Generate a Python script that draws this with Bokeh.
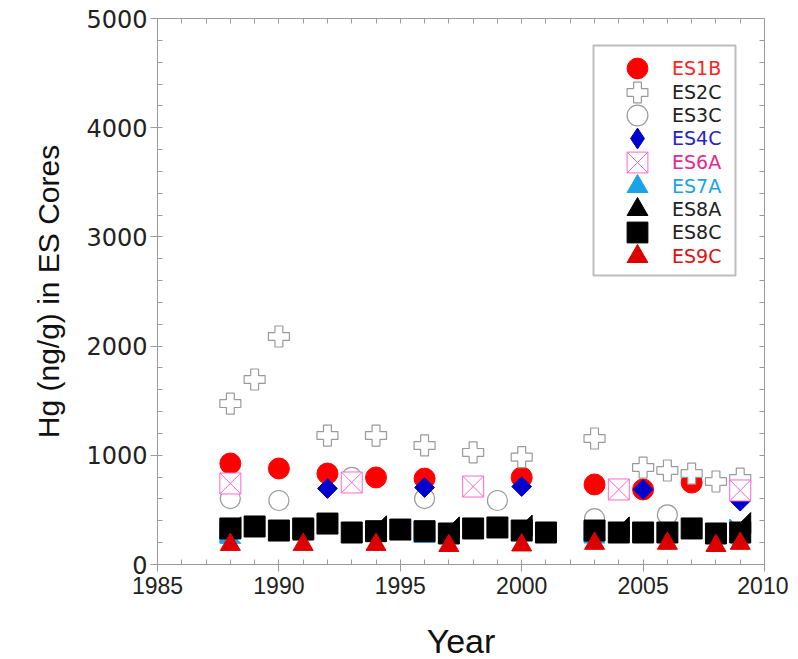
import numpy as np
from bokeh.plotting import figure
from bokeh.models import (Range1d, LinearAxis, SingleIntervalTicker, FixedTicker, Legend,
                          LegendItem, BoxAnnotation, ColumnDataSource)
from bokeh.embed import file_html
from bokeh.resources import INLINE

# ---------------- data ----------------
es1b_year = [1988, 1990, 1992, 1994, 1996, 2000, 2003, 2005, 2007]
es1b_hg = [925, 879, 833, 797, 787, 797, 733, 687, 750]

es2c_year = [1988, 1989, 1990, 1992, 1994, 1996, 1998, 2000, 2003, 2005, 2006, 2007, 2008, 2009]
es2c_hg = [1474, 1694, 2088, 1181, 1181, 1090, 1026, 983, 1154, 888, 861, 833, 760, 787]

es3c_year = [1988, 1990, 1993, 1996, 1999, 2003, 2006, 2009]
es3c_hg = [604, 586, 797, 604, 586, 420, 455, 240]

es4c_year = [1988, 1992, 1996, 2000, 2005, 2009]
es4c_hg = [750, 696, 705, 714, 687, 580]

es6a_year = [1988, 1993, 1998, 2004, 2009]
es6a_hg = [742, 751, 714, 687, 678]

es7a_year = [1988, 1996, 2003, 2009]
es7a_hg = [290, 300, 293, 320]

es8a_year = [1988, 1991, 1994, 1997, 2000, 2004, 2009]
es8a_hg = [340, 320, 350, 340, 357, 340, 380]

es8c_year = [1988, 1989, 1990, 1991, 1992, 1993, 1994, 1995, 1996, 1997, 1998,
             1999, 2000, 2001, 2003, 2004, 2005, 2006, 2007, 2008, 2009]
es8c_hg = [330, 348, 311, 330, 375, 293, 305, 320, 305, 284, 330,
           339, 311, 293, 311, 293, 293, 293, 330, 284, 293]

es9c_year = [1988, 1991, 1994, 1997, 2000, 2003, 2006, 2008, 2009]
es9c_hg = [182, 182, 182, 172, 177, 192, 192, 172, 192]

series_names = ["ES1B", "ES2C", "ES3C", "ES4C", "ES6A", "ES7A", "ES8A", "ES8C", "ES9C"]

x_ticks_interval = 5
y_ticks_interval = 1000

# ---------------- styles ----------------
X0, X1, Y0, Y1 = 1985, 2010, 0, 5000
FW, FH = 607, 546
AX = "#9a9a9a"
SANS = "Liberation Sans"

p = figure(frame_width=FW, frame_height=FH,
           x_range=Range1d(X0, X1), y_range=Range1d(Y0, Y1),
           output_backend="svg", toolbar_location=None,
           min_border_left=157, min_border_right=24,
           min_border_top=18, min_border_bottom=90,
           background_fill_color="white", border_fill_color="white")
p.outline_line_color = None
p.xgrid.grid_line_color = None
p.ygrid.grid_line_color = None

xa = p.xaxis[0]
ya = p.yaxis[0]
xa.ticker = SingleIntervalTicker(interval=x_ticks_interval, num_minor_ticks=5)
ya.ticker = SingleIntervalTicker(interval=y_ticks_interval, num_minor_ticks=5)
for ax in (xa, ya):
    ax.axis_line_color = AX
    ax.major_tick_line_color = AX
    ax.minor_tick_line_color = AX
    ax.major_tick_out = 7
    ax.major_tick_in = 0
    ax.minor_tick_out = 0
    ax.minor_tick_in = 5
xa.axis_label = "Year"
xa.axis_label_text_font = SANS
xa.axis_label_text_font_size = "34px"
xa.axis_label_text_font_style = "normal"
xa.axis_label_text_color = "#111111"
xa.axis_label_standoff = 25
xa.major_label_text_font = SANS
xa.major_label_text_font_size = "23px"
xa.major_label_text_color = "#222222"
xa.major_label_standoff = 5

ya.axis_label = "Hg (ng/g) in ES Cores"
ya.axis_label_text_font = SANS
ya.axis_label_text_font_size = "30px"
ya.axis_label_text_font_style = "normal"
ya.axis_label_text_color = "#111111"
ya.axis_label_standoff = 18
ya.major_label_text_font = "DejaVu Sans"
ya.major_label_text_font_size = "24px"
ya.major_label_text_color = "#222222"
ya.major_label_standoff = 3

# mirrored tick marks on the right and top edges (ticks only, no labels)
right_ticks = list(range(Y0, Y1 + 1, y_ticks_interval // 5))
top_ticks = list(range(X0, X1 + 1, 1))
for loc, ticks in (("right", right_ticks), ("above", top_ticks)):
    ax = LinearAxis(ticker=FixedTicker(ticks=[], minor_ticks=ticks),
                    axis_line_color=AX, major_tick_line_color=AX, minor_tick_line_color=AX,
                    major_tick_out=0, major_tick_in=0, minor_tick_out=0, minor_tick_in=5,
                    major_label_standoff=0)
    p.add_layout(ax, loc)

# ---------------- marks ----------------
renderers = {}
renderers["ES1B"] = p.scatter(es1b_year, es1b_hg, marker="circle", size=21,
                              fill_color="#ff0000", line_color="#ff0000")
renderers["ES2C"] = p.scatter(es2c_year, es2c_hg, marker="plus", size=21,
                              fill_color="white", line_color="#9a9a9a", line_width=1.2)
renderers["ES3C"] = p.scatter(es3c_year, es3c_hg, marker="circle", size=20,
                              fill_color="white", line_color="#9a9a9a", line_width=1.2)
p.scatter(es4c_year, es4c_hg, marker="square", angle=np.pi / 4, size=14,
          fill_color="#0000cc", line_color="#0000cc")
renderers["ES6A"] = p.scatter(es6a_year, es6a_hg, marker="square_x", size=21,
                              fill_color="white", line_color="#ff66cc", line_width=1)

# right-triangle markers (ES7A: right angle lower-left, ES8A: lower-right)
HW = 10.5 * (X1 - X0) / FW     # half width in years (10.5 px)
HH = 10.5 * (Y1 - Y0) / FH     # half height in ng/g (10.5 px)
es7a_xs = [[x - HW, x - HW, x + HW] for x in es7a_year]
es7a_ys = [[y + HH, y - HH, y - HH] for y in es7a_hg]
p.patches(es7a_xs, es7a_ys, fill_color="#1aa3e8", line_color="#1aa3e8")
es8a_xs = [[x - HW, x + HW, x + HW] for x in es8a_year]
es8a_ys = [[y - HH, y - HH, y + HH] for y in es8a_hg]
p.patches(es8a_xs, es8a_ys, fill_color="black", line_color="black")

renderers["ES8C"] = p.scatter(es8c_year, es8c_hg, marker="square", size=21,
                              fill_color="black", line_color="black")
renderers["ES9C"] = p.scatter(es9c_year, es9c_hg, marker="triangle", size=20,
                              fill_color="#dd0000", line_color="#dd0000")

# legend-only glyph renderers (one off-plot NaN point) for markers whose plot shape differs
def legend_only(marker, color):
    src = ColumnDataSource(dict(x=[np.nan], y=[np.nan]))
    return p.scatter("x", "y", source=src, marker=marker, fill_color=color, line_color=color)

renderers["ES4C"] = legend_only("diamond", "#0000cc")
renderers["ES7A"] = legend_only("triangle", "#1aa3e8")
renderers["ES8A"] = legend_only("triangle", "black")

label_colors = {"ES1B": "#ff2222", "ES2C": "#222222", "ES3C": "#222222",
                "ES4C": "#2424cc", "ES6A": "#e8288c", "ES7A": "#1aa3e8",
                "ES8A": "#222222", "ES8C": "#222222", "ES9C": "#dd1111"}

# ---------------- legend (one per entry for individual label colours) ----------------
G = 52            # glyph box -> marker size 0.4*G
CX = 480          # glyph centre, px from frame left
CY0, DY = 50, 23.5
for i, name in enumerate(series_names):
    cy = CY0 + DY * i
    lg = Legend(items=[LegendItem(label=name, renderers=[renderers[name]])],
                location=(CX - G // 2, int(round(FH - (cy + G / 2)))),
                glyph_width=G, glyph_height=G, label_height=G,
                label_standoff=9, padding=0, margin=0, spacing=0,
                label_text_font="DejaVu Sans", label_text_font_size="19px",
                label_text_color=label_colors[name],
                background_fill_alpha=0, border_line_alpha=0)
    p.add_layout(lg, "center")

p.add_layout(BoxAnnotation(left=436, right=578, top=FH - 27, bottom=FH - 257,
                           left_units="screen", right_units="screen",
                           top_units="screen", bottom_units="screen",
                           fill_color=None, line_color="#222222", line_width=2))

open("out.html", "w").write(file_html(p, INLINE))
